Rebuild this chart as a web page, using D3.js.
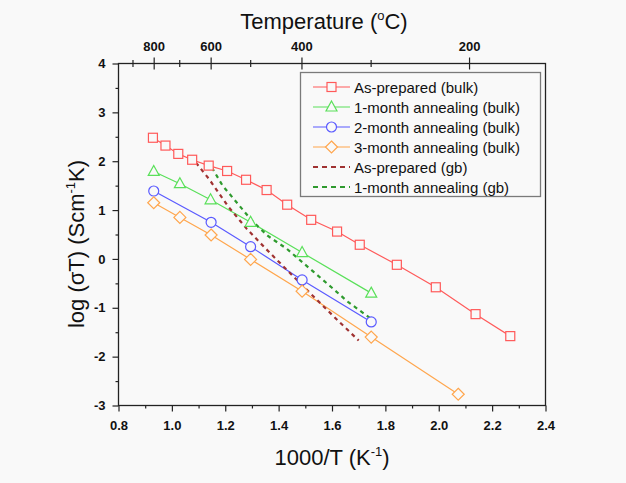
<!DOCTYPE html>
<html><head><meta charset="utf-8">
<script src="https://cdn.jsdelivr.net/npm/d3@7"></script>
<style>
body{margin:0;background:#f9f9f9;}
svg{display:block;font-family:"Liberation Sans",Arial,sans-serif;}
</style></head>
<body><svg id="c" width="626" height="483"></svg>
<script>
// ---- data ----
const xTicks = [0.8,1.0,1.2,1.4,1.6,1.8,2.0,2.2,2.4];
const yTicks = [-3,-2,-1,0,1,2,3,4];
const topMajorTemps = [800,600,400,200];
const topMinorTemps = [900,700,500,300];

const asPrepBulkX = [0.929,0.976,1.024,1.076,1.138,1.207,1.278,1.355,1.432,1.522,1.619,1.704,1.843,1.989,2.138,2.268];
const asPrepBulkY = [2.48,2.32,2.15,2.03,1.91,1.80,1.62,1.41,1.11,0.80,0.56,0.29,-0.12,-0.58,-1.13,-1.58];

const m1BulkX = [0.932,1.030,1.145,1.295,1.488,1.747];
const m1BulkY = [1.79,1.54,1.21,0.75,0.13,-0.70];

const m2BulkX = [0.932,1.147,1.295,1.488,1.747];
const m2BulkY = [1.39,0.75,0.25,-0.43,-1.29];

const m3BulkX = [0.932,1.030,1.147,1.295,1.488,1.747,2.073];
const m3BulkY = [1.15,0.85,0.49,-0.01,-0.66,-1.60,-2.77];

const asPrepGbX = [1.09,1.14,1.21,1.28,1.35,1.43,1.52,1.62,1.70];
const asPrepGbY = [1.97,1.63,1.08,0.62,0.22,-0.22,-0.71,-1.25,-1.67];

const m1GbX = [1.15,1.19,1.25,1.30,1.36,1.43,1.53,1.60,1.66,1.75];
const m1GbY = [1.87,1.50,1.11,0.78,0.47,0.21,-0.26,-0.59,-0.88,-1.24];

const seriesNames = ["As-prepared (bulk)","1-month annealing (bulk)","2-month annealing (bulk)","3-month annealing (bulk)","As-prepared (gb)","1-month annealing (gb)"];
const seriesColors = ["#ff5a5a","#5ae05a","#5a5aff","#ffa64d","#a03232","#2e9a2e"];
const seriesMarkers = ["square","triangle","circle","diamond",null,null];

const series = [
  {x:asPrepBulkX,y:asPrepBulkY},
  {x:m1BulkX,y:m1BulkY},
  {x:m2BulkX,y:m2BulkY},
  {x:m3BulkX,y:m3BulkY},
  {x:asPrepGbX,y:asPrepGbY},
  {x:m1GbX,y:m1GbY}
].map((s,i)=>({name:seriesNames[i],color:seriesColors[i],marker:seriesMarkers[i],
  pts:s.x.map((v,j)=>[v,s.y[j]])}));

// ---- layout ----
const svg = d3.select("#c");
const bg = "#f9f9f9";
const L=118.5, R=545.5, T=63.5, B=405.5;
const x = d3.scaleLinear().domain([0.8,2.4]).range([L,R]);
const y = d3.scaleLinear().domain([-3,4]).range([B,T]);

// frame
svg.append("rect").attr("x",L).attr("y",T).attr("width",R-L).attr("height",B-T)
  .attr("fill","none").attr("stroke","#222").attr("stroke-width",1.3);

// bottom axis
const xMinor = d3.range(0.9,2.4,0.2);
const gx = svg.append("g").attr("transform",`translate(0,${B})`)
  .call(d3.axisBottom(x).tickValues(xTicks).tickFormat(d=>d.toFixed(1)).tickSize(6).tickPadding(9));
gx.append("g").call(d3.axisBottom(x).tickValues(xMinor).tickSize(3).tickFormat(""));
// left axis
const yMinor = d3.range(-2.5,4,1);
const gy = svg.append("g").attr("transform",`translate(${L},0)`)
  .call(d3.axisLeft(y).tickValues(yTicks).tickFormat(d=>String(d)).tickSize(6).tickPadding(7));
gy.append("g").call(d3.axisLeft(y).tickValues(yMinor).tickSize(3).tickFormat(""));
// top axis (temperature)
const inv = t => 1000/(t+273.15);
const gt = svg.append("g").attr("transform",`translate(0,${T})`)
  .call(d3.axisTop(x).tickValues(topMajorTemps.map(inv)).tickFormat((d,i)=>String(topMajorTemps[i])).tickSize(6).tickPadding(7));
gt.selectAll(".tick line").attr("y1",6).attr("y2",-6);
const gtm = gt.append("g").call(d3.axisTop(x).tickValues(topMinorTemps.map(inv)).tickSize(3).tickFormat(""));
gtm.selectAll(".tick line").attr("y1",3.5).attr("y2",-3.5);

svg.selectAll(".domain").remove();
svg.selectAll(".tick line").attr("stroke","#222").attr("stroke-width",1.2);
svg.selectAll(".tick text").attr("font-size",13).attr("font-weight","bold")
  .attr("fill","#111").attr("font-family","Liberation Sans, Arial, sans-serif");

// titles
const tb = svg.append("text").attr("x",332).attr("y",465).attr("text-anchor","middle")
  .attr("font-size",22).attr("fill","#111");
tb.append("tspan").text("1000/T (K");
tb.append("tspan").attr("font-size",13).attr("dy",-9).text("-1");
tb.append("tspan").attr("dy",9).text(")");

const tt = svg.append("text").attr("x",324).attr("y",29).attr("text-anchor","middle")
  .attr("font-size",22).attr("fill","#111");
tt.append("tspan").text("Temperature (");
tt.append("tspan").attr("font-size",13).attr("dy",-9).text("o");
tt.append("tspan").attr("dy",9).text("C)");

const ty = svg.append("text").attr("transform","translate(84,244) rotate(-90)")
  .attr("text-anchor","middle").attr("font-size",22).attr("fill","#111");
ty.append("tspan").text("log (σT) (Scm");
ty.append("tspan").attr("font-size",13).attr("dy",-9).text("-1");
ty.append("tspan").attr("dy",9).text("K)");

// marker drawing
function marker(g, type, cx, cy, color){
  if(type==="square") g.append("rect").attr("x",cx-4.5).attr("y",cy-4.5).attr("width",9).attr("height",9)
     .attr("fill",bg).attr("stroke",color).attr("stroke-width",1.2);
  else if(type==="circle") g.append("circle").attr("cx",cx).attr("cy",cy).attr("r",5)
     .attr("fill",bg).attr("stroke",color).attr("stroke-width",1.2);
  else if(type==="triangle") g.append("path")
     .attr("d",`M${cx},${cy-6}L${cx+5.5},${cy+4}L${cx-5.5},${cy+4}Z`)
     .attr("fill",bg).attr("stroke",color).attr("stroke-width",1.2);
  else if(type==="diamond") g.append("path")
     .attr("d",`M${cx},${cy-6}L${cx+6},${cy}L${cx},${cy+6}L${cx-6},${cy}Z`)
     .attr("fill",bg).attr("stroke",color).attr("stroke-width",1.2);
}

const line = d3.line().x(d=>x(d[0])).y(d=>y(d[1]));
const plot = svg.append("g");
series.forEach(s=>{
  if(s.marker){
    plot.append("path").attr("d",line(s.pts)).attr("fill","none").attr("stroke",s.color).attr("stroke-width",1.2);
  }
});
series.forEach(s=>{
  if(!s.marker){
    plot.append("path").attr("d",line(s.pts)).attr("fill","none").attr("stroke",s.color)
      .attr("stroke-width",2.2).attr("stroke-dasharray","4,4");
  }
});
series.forEach(s=>{
  if(s.marker){
    const g = plot.append("g");
    s.pts.forEach(p=>marker(g,s.marker,x(p[0]),y(p[1]),s.color));
  }
});

// legend
const lg = svg.append("g");
lg.append("rect").attr("x",300.5).attr("y",72.5).attr("width",240).attr("height",124)
  .attr("fill",bg).attr("stroke","#7a7a7a").attr("stroke-width",1.3);
series.forEach((s,i)=>{
  const yy = 87 + i*20;
  const l = lg.append("line").attr("x1",313).attr("x2",350).attr("y1",yy).attr("y2",yy).attr("stroke",s.color);
  if(s.marker){ l.attr("stroke-width",1.2); marker(lg,s.marker,331.5,yy,s.color); }
  else l.attr("stroke-width",2.2).attr("stroke-dasharray","5,4");
  lg.append("text").attr("x",354).attr("y",yy+5.5).attr("font-size",15).attr("fill","#111").text(s.name);
});
</script></body></html>
